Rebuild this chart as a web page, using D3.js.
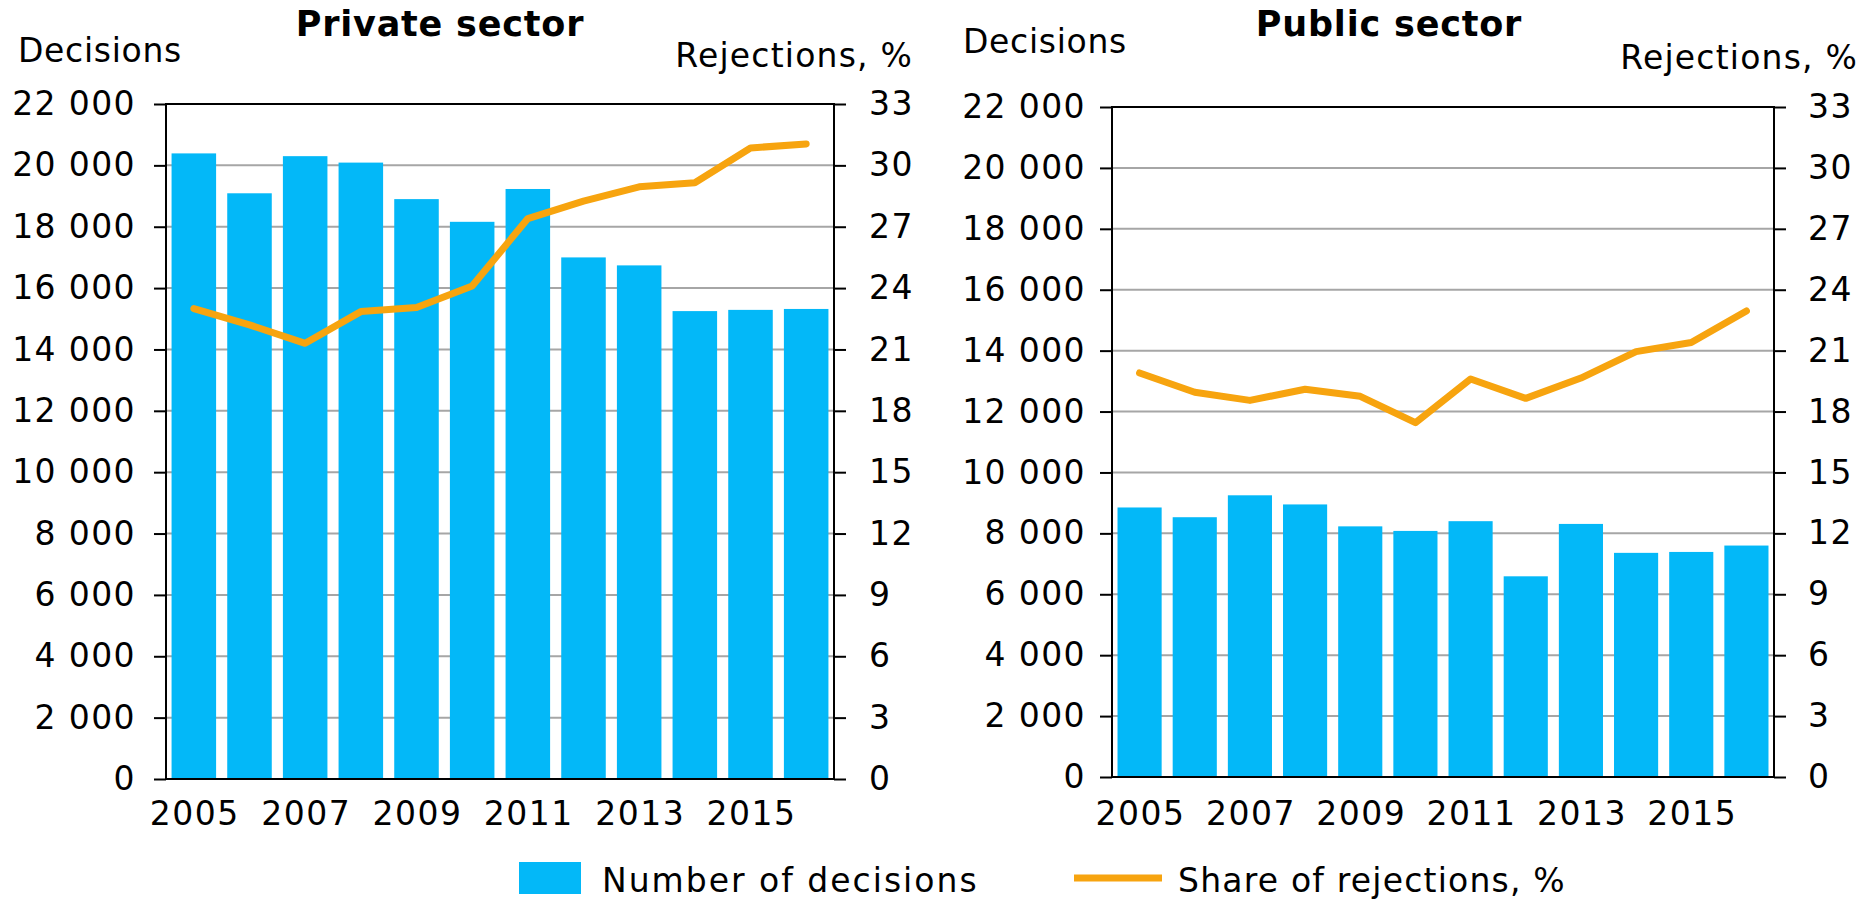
<!DOCTYPE html>
<html>
<head>
<meta charset="utf-8">
<script src="https://cdn.jsdelivr.net/npm/d3@7"></script>
<style>
  body { margin: 0; background: #fff; }
  svg text { font-family: "DejaVu Sans", Verdana, sans-serif; fill: #000; }
</style>
</head>
<body>
<svg id="chart" width="1866" height="899"></svg>
<script>
// data
var years = [2005, 2006, 2007, 2008, 2009, 2010, 2011, 2012, 2013, 2014, 2015, 2016];
var yearLabels = [2005, 2007, 2009, 2011, 2013, 2015];
var privateDecisions = [20390, 19090, 20300, 20090, 18900, 18160, 19230, 17000, 16740, 15250, 15290, 15320];
var privateRejections = [23.0, 22.2, 21.3, 22.85, 23.05, 24.1, 27.4, 28.25, 28.95, 29.15, 30.85, 31.05];
var publicDecisions = [8850, 8530, 9250, 8950, 8230, 8080, 8400, 6590, 8310, 7360, 7390, 7600];
var publicRejections = [19.9, 18.95, 18.55, 19.1, 18.75, 17.45, 19.6, 18.65, 19.65, 20.95, 21.4, 22.95];
var decisionTicks = [0, 2000, 4000, 6000, 8000, 10000, 12000, 14000, 16000, 18000, 20000, 22000];
var rejectionTicks = [0, 3, 6, 9, 12, 15, 18, 21, 24, 27, 30, 33];

var barColor = "#03b8f8";
var lineColor = "#f7a40f";
var gridColor = "#a6a6a6";

var locale = d3.formatLocale({ decimal: ",", thousands: " ", grouping: [3], currency: ["", ""] });
var fmt = locale.format(",d");

var svg = d3.select("#chart");

function drawPanel(cfg) {
  var x = d3.scaleBand()
    .domain(years)
    .range([cfg.left, cfg.right])
    .paddingInner(0.2)
    .paddingOuter(0.1);
  var y = d3.scaleLinear().domain([0, 22000]).range([cfg.bottom, cfg.top]);
  var y2 = d3.scaleLinear().domain([0, 33]).range([cfg.bottom, cfg.top]);

  var g = svg.append("g");

  // gridlines
  g.append("g").selectAll("line")
    .data(decisionTicks)
    .join("line")
    .attr("x1", cfg.left).attr("x2", cfg.right)
    .attr("y1", function(d) { return y(d); })
    .attr("y2", function(d) { return y(d); })
    .attr("stroke", gridColor)
    .attr("stroke-width", 2);

  // bars
  g.append("g").selectAll("rect")
    .data(cfg.decisions)
    .join("rect")
    .attr("x", function(d, i) { return x(years[i]); })
    .attr("width", x.bandwidth())
    .attr("y", function(d) { return y(d); })
    .attr("height", function(d) { return y(0) - y(d); })
    .attr("fill", barColor);

  // frame
  g.append("rect")
    .attr("x", cfg.left).attr("y", cfg.top)
    .attr("width", cfg.right - cfg.left)
    .attr("height", cfg.bottom - cfg.top)
    .attr("fill", "none")
    .attr("stroke", "#000")
    .attr("stroke-width", 2);

  // left axis
  var axL = g.append("g")
    .attr("transform", "translate(" + cfg.left + ",0)")
    .call(d3.axisLeft(y).tickValues(decisionTicks).tickFormat(fmt)
      .tickSize(12).tickSizeOuter(0).tickPadding(cfg.padL));
  axL.select(".domain").remove();
  axL.selectAll("line").attr("stroke", "#000").attr("stroke-width", 2);
  axL.selectAll("text").attr("font-size", 33).attr("letter-spacing", "1.4px")
    .attr("font-family", "DejaVu Sans, Verdana, sans-serif");

  // right axis
  var axR = g.append("g")
    .attr("transform", "translate(" + cfg.right + ",0)")
    .call(d3.axisRight(y2).tickValues(rejectionTicks)
      .tickSize(12).tickSizeOuter(0).tickPadding(cfg.padR));
  axR.select(".domain").remove();
  axR.selectAll("line").attr("stroke", "#000").attr("stroke-width", 2);
  axR.selectAll("text").attr("font-size", 33).attr("letter-spacing", "1.4px")
    .attr("font-family", "DejaVu Sans, Verdana, sans-serif");

  // year labels
  g.append("g").selectAll("text")
    .data(yearLabels)
    .join("text")
    .attr("x", function(d) { return x(d) + x.bandwidth() / 2 + 1; })
    .attr("y", 825)
    .attr("text-anchor", "middle")
    .attr("font-size", 33)
    .attr("letter-spacing", "1.5px")
    .text(function(d) { return d; });

  // rejection line
  var line = d3.line()
    .x(function(d, i) { return x(years[i]) + x.bandwidth() / 2; })
    .y(function(d) { return y2(d); });

  g.append("path")
    .datum(cfg.rejections)
    .attr("fill", "none")
    .attr("stroke", lineColor)
    .attr("stroke-width", 7)
    .attr("stroke-linejoin", "round")
    .attr("stroke-linecap", "round")
    .attr("d", line);

  // titles
  g.append("text")
    .attr("x", cfg.titleX).attr("y", 36)
    .attr("text-anchor", "middle")
    .attr("font-size", 35)
    .attr("font-weight", "bold")
    .attr("letter-spacing", "0.8px")
    .text(cfg.title);

  g.append("text")
    .attr("x", cfg.decX).attr("y", cfg.decY)
    .attr("font-size", 33)
    .attr("letter-spacing", "0.7px")
    .text("Decisions");

  g.append("text")
    .attr("x", cfg.rejX).attr("y", cfg.rejY)
    .attr("text-anchor", "end")
    .attr("font-size", 33)
    .attr("letter-spacing", "1.2px")
    .text("Rejections, %");
}

drawPanel({
  title: "Private sector", titleX: 440,
  left: 166, right: 834, top: 104, bottom: 779,
  padL: 18, padR: 23,
  decX: 18, decY: 62, rejX: 913, rejY: 67,
  decisions: privateDecisions, rejections: privateRejections
});

drawPanel({
  title: "Public sector", titleX: 1389,
  left: 1112, right: 1774, top: 107, bottom: 777,
  padL: 14, padR: 22,
  decX: 963, decY: 53, rejX: 1858, rejY: 69,
  decisions: publicDecisions, rejections: publicRejections
});

// legend
var legend = svg.append("g");
legend.append("rect")
  .attr("x", 519).attr("y", 862)
  .attr("width", 62).attr("height", 32)
  .attr("fill", barColor);
legend.append("text")
  .attr("x", 602).attr("y", 892)
  .attr("font-size", 33)
  .attr("letter-spacing", "2px")
  .text("Number of decisions");
legend.append("line")
  .attr("x1", 1074).attr("x2", 1162)
  .attr("y1", 878).attr("y2", 878)
  .attr("stroke", lineColor)
  .attr("stroke-width", 7);
legend.append("text")
  .attr("x", 1178).attr("y", 892)
  .attr("font-size", 33)
  .attr("letter-spacing", "1.2px")
  .text("Share of rejections, %");
</script>
</body>
</html>
